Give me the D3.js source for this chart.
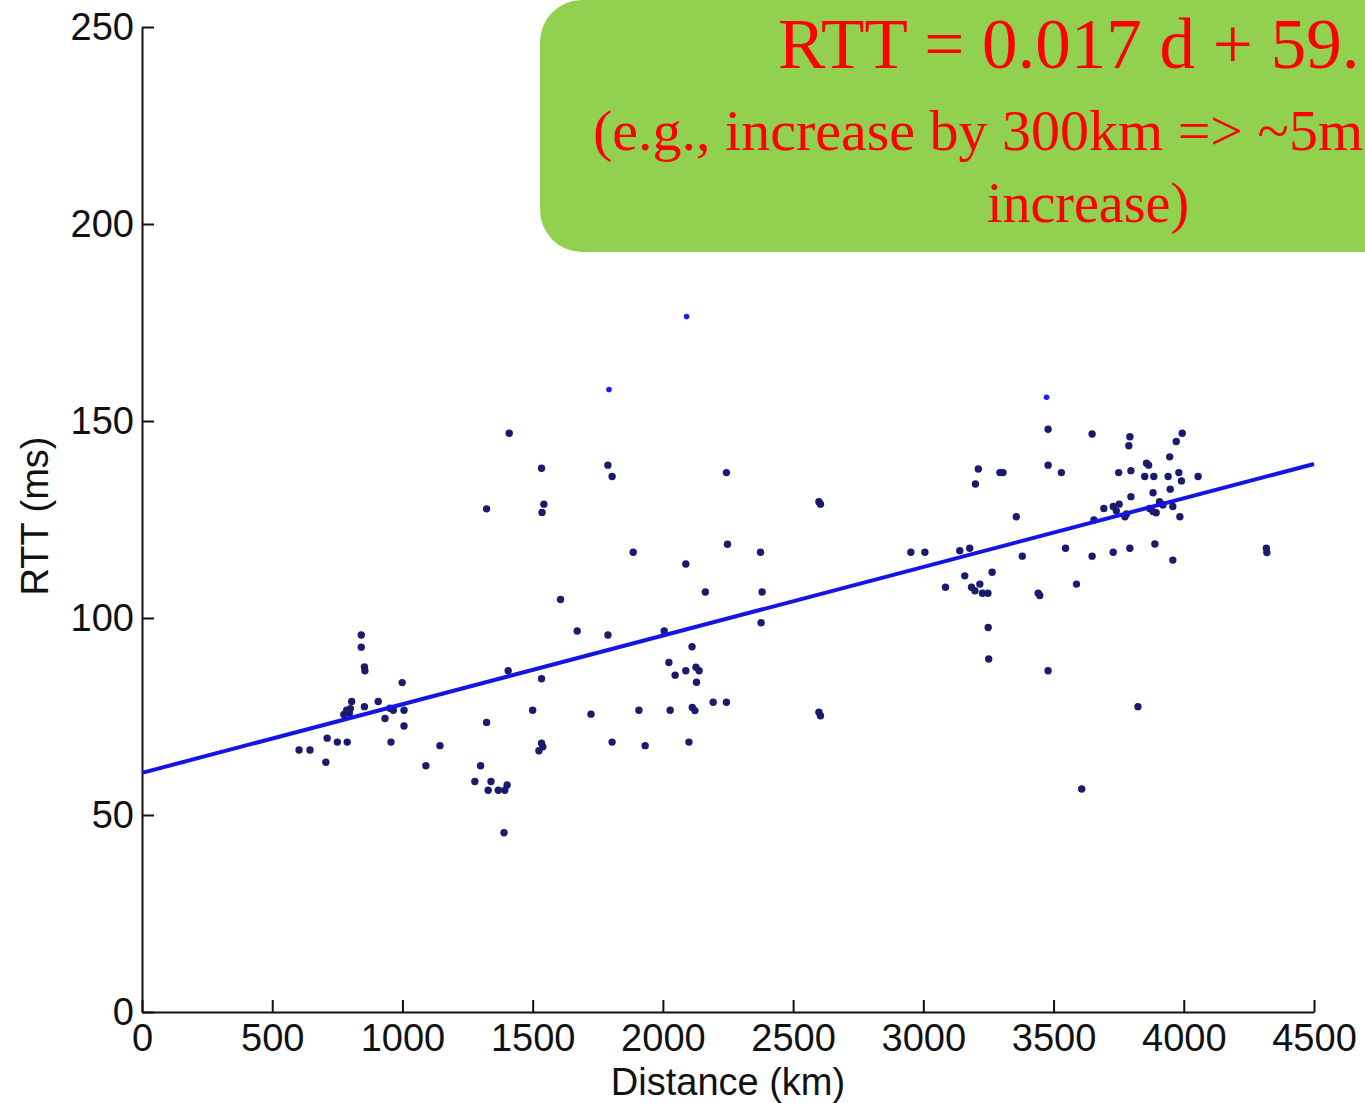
<!DOCTYPE html>
<html>
<head>
<meta charset="utf-8">
<script src="https://cdn.jsdelivr.net/npm/d3@7"></script>
<style>
  html, body { margin: 0; padding: 0; background: #fff; overflow: hidden; }
  svg { display: block; }
</style>
</head>
<body>
<svg id="chart" width="1365" height="1103"></svg>
<script>
// ---- data ----
const distance = [
  603, 645, 706, 711, 750, 788, 775, 786, 796, 800, 805, 842, 842, 854, 856, 854, 907, 933, 952, 965, 956, 999, 1006, 1006, 1090, 1144,
  1278, 1300, 1323, 1323, 1329, 1340, 1368, 1393, 1402, 1390, 1406, 1410,
  1500, 1524, 1534, 1539, 1534, 1534, 1536, 1543, 1607, 1671, 1724, 1789, 1789, 1805, 1805, 1886, 1908, 1932,
  2005, 2023, 2028, 2047, 2088, 2088, 2100, 2112, 2113, 2123, 2127, 2129, 2139, 2163, 2193, 2244, 2244, 2248, 2375, 2377, 2381,
  2599, 2605, 2599, 2605,
  2952, 3006, 3085, 3140, 3159, 3178, 3185, 3198, 3200, 3211, 3217, 3227, 3248, 3249, 3251, 3264, 3294, 3306, 3357, 3380,
  3441, 3447, 3479, 3479, 3479, 3530, 3546, 3588, 3608, 3648, 3648, 3655, 3693, 3729, 3729, 3741, 3750, 3752, 3774, 3780,
  3789, 3793, 3793, 3797, 3797, 3824, 3850, 3857, 3865, 3869, 3882, 3882, 3885, 3889, 3894, 3907, 3920, 3940, 3946, 3948,
  3958, 3958, 3971, 3981, 3985, 3991, 3994, 4055, 4317, 4319
];
const rtt = [
  66.5, 66.5, 63.4, 69.5, 68.5, 68.5, 75.5, 76.6, 75.8, 77.0, 78.8, 95.7, 92.6, 87.6, 86.6, 77.5, 78.8, 74.5, 77.1, 76.6, 68.5, 83.6, 76.6, 72.6, 62.5, 67.6,
  58.5, 62.5, 73.5, 127.7, 56.3, 58.5, 56.3, 56.3, 57.6, 45.5, 86.6, 146.9,
  76.6, 66.3, 68.2, 67.3, 84.6, 138.0, 126.8, 128.9, 104.7, 96.7, 75.6, 95.7, 138.8, 135.9, 68.5, 116.7, 76.6, 67.6,
  96.7, 88.7, 76.6, 85.5, 86.6, 113.7, 68.5, 92.7, 77.3, 76.5, 87.5, 83.7, 86.6, 106.6, 78.6, 78.6, 136.9, 118.7, 116.7, 98.8, 106.6,
  129.5, 128.9, 76.1, 75.2,
  116.7, 116.7, 107.8, 117.1, 110.7, 117.7, 107.8, 106.9, 134.0, 137.8, 108.6, 106.3, 106.3, 97.6, 89.6, 111.6, 136.9, 136.9, 125.7, 115.7,
  106.3, 105.7, 147.9, 138.8, 86.6, 136.9, 117.7, 108.6, 56.6, 146.7, 115.7, 124.9, 127.8, 128.3, 116.7, 127.2, 136.9, 128.9, 125.7, 126.4,
  143.7, 146.0, 117.7, 137.4, 130.8, 77.5, 135.9, 139.3, 138.8, 127.8, 127.0, 131.8, 135.9, 118.8, 126.7, 129.5, 128.7, 135.9, 140.9, 132.7,
  128.3, 114.7, 144.8, 136.9, 125.7, 134.8, 146.9, 135.9, 117.7, 116.6
];
// the few lighter outliers at the top
const outlierDistance = [1793, 2091, 3473];
const outlierRtt = [158.0, 176.5, 156.0];

// least-squares fit as drawn
const fitSlope = 0.01742;
const fitIntercept = 60.7;
const fitRange = [0, 4500];

const xTicks = [0, 500, 1000, 1500, 2000, 2500, 3000, 3500, 4000, 4500];
const yTicks = [0, 50, 100, 150, 200, 250];
const xTitle = "Distance (km)";
const yTitle = "RTT (ms)";
const noteLines = ["RTT = 0.017 d + 59.", "(e.g., increase by 300km => ~5m", "increase)"];

// ---- drawing ----
const svg = d3.select("#chart");
const x = d3.scaleLinear().domain([0, 4500]).range([142, 1314]);
const y = d3.scaleLinear().domain([0, 250]).range([1012, 27]);
const sansFont = "'Liberation Sans', Arial, Helvetica, sans-serif";
const serifFont = "'Liberation Serif', 'Times New Roman', serif";

// axes
const xAxis = d3.axisBottom(x).tickValues(xTicks).tickFormat(d3.format("d"))
  .tickSizeInner(-12).tickSizeOuter(0).tickPadding(12);
const yAxis = d3.axisLeft(y).tickValues(yTicks).tickFormat(d3.format("d"))
  .tickSizeInner(-12).tickSizeOuter(0).tickPadding(8);

const gx = svg.append("g").attr("transform", `translate(0,${y(0)})`).call(xAxis);
const gy = svg.append("g").attr("transform", `translate(${x(0)},0)`).call(yAxis);
[gx, gy].forEach(g => {
  g.selectAll("path.domain").attr("stroke", "#111").attr("stroke-width", 2);
  g.selectAll(".tick line").attr("stroke", "#111").attr("stroke-width", 2);
  g.selectAll(".tick text").attr("fill", "#111").style("font-family", sansFont).style("font-size", "38px");
});

// axis titles
svg.append("text").attr("x", 728).attr("y", 1095).attr("text-anchor", "middle")
  .style("font-family", sansFont).style("font-size", "38px").attr("fill", "#111").text(xTitle);
svg.append("text").attr("transform", `translate(48,516) rotate(-90)`).attr("text-anchor", "middle")
  .style("font-family", sansFont).style("font-size", "38px").attr("fill", "#111").text(yTitle);

// points
const pts = distance.map((d, i) => ({ d, r: rtt[i] }));
svg.append("g").selectAll("circle").data(pts).join("circle")
  .attr("cx", p => x(p.d)).attr("cy", p => y(p.r)).attr("r", 3.7)
  .attr("fill", "#1b1b6e");
const outs = outlierDistance.map((d, i) => ({ d, r: outlierRtt[i] }));
svg.append("g").selectAll("circle").data(outs).join("circle")
  .attr("cx", p => x(p.d)).attr("cy", p => y(p.r)).attr("r", 2.8)
  .attr("fill", "#1a1aff");

// regression line
const line = d3.line().x(d => x(d)).y(d => y(fitSlope * d + fitIntercept));
svg.append("path").datum(fitRange).attr("d", line)
  .attr("fill", "none").attr("stroke", "#1414e6").attr("stroke-width", 4);

// annotation box
svg.append("rect").attr("x", 540).attr("y", 0).attr("width", 900).attr("height", 252)
  .attr("rx", 42).attr("ry", 42).attr("fill", "#92d050");
svg.append("text").attr("x", 778).attr("y", 68).attr("text-anchor", "start")
  .style("font-family", serifFont).style("font-size", "71px").attr("fill", "#ff0000").text(noteLines[0]);
svg.append("text").attr("x", 593).attr("y", 150).attr("text-anchor", "start")
  .style("font-family", serifFont).style("font-size", "58px").attr("fill", "#ff0000").text(noteLines[1]);
svg.append("text").attr("x", 1088).attr("y", 222).attr("text-anchor", "middle")
  .style("font-family", serifFont).style("font-size", "56px").attr("fill", "#ff0000").text(noteLines[2]);
</script>
</body>
</html>
